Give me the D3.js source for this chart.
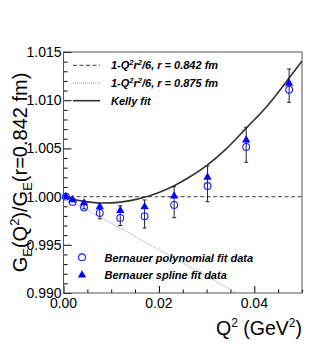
<!DOCTYPE html>
<html>
<head>
<meta charset="utf-8">
<script src="https://cdn.jsdelivr.net/npm/d3@7"></script>
<style>
  body { margin: 0; background: #fff; }
  svg text { font-family: "Liberation Sans", Arial, Helvetica, sans-serif; fill: #000; }
</style>
</head>
<body>
<div id="chart"></div>
<script>
// measured Q^2 points (GeV^2)
let q2 = [0.0005, 0.0019, 0.0043, 0.0076, 0.0119, 0.0170, 0.0232, 0.0302, 0.0383, 0.0473]
let polyVals = [1.0000, 0.99945, 0.99886, 0.99831, 0.99779, 0.99797, 0.99914, 1.00110, 1.00515, 1.01109]
let splineVals = [1.0000, 0.99966, 0.99934, 0.99893, 0.99855, 0.99893, 1.00006, 1.00201, 1.00587, 1.01175]
let errLow = [0.99996, 0.99948, 0.99872, 0.99769, 0.99700, 0.99674, 0.99781, 0.99947, 1.00356, 1.00978]
let errHigh = [1.00004, 0.99962, 0.99944, 0.99900, 0.99905, 0.99965, 1.00103, 1.00317, 1.00719, 1.01324]

// Kelly fit curve
let kellyQ2 = [0, 0.002, 0.004, 0.006, 0.008, 0.010, 0.012, 0.014, 0.0175, 0.020, 0.023, 0.026, 0.030, 0.034, 0.0383, 0.042, 0.0473, 0.050]
let kellyVals = [1.0000, 0.99973, 0.99953, 0.99940, 0.99934, 0.99935, 0.99943, 0.99958, 1.0000, 1.00043, 1.00108, 1.00190, 1.00322, 1.00490, 1.00710, 1.00900, 1.01230, 1.01407]

// 1-Q^2 r^2/6 lines
let r842Q2 = [0, 0.05]
let r842Vals = [1.0, 1.0]
let r875Q2 = [0, 0.0363]
let r875Vals = [1.0, 0.990]

let xTicks = [0, 0.02, 0.04]
let yTicks = [0.990, 0.995, 1.000, 1.005, 1.010, 1.015]

let width = 336, height = 346
let fLeft = 63.5, fRight = 302, fTop = 52, fBottom = 293

let svg = d3.select('#chart')
  .append('svg')
  .attr('width', width)
  .attr('height', height)

let x = d3.scaleLinear().domain([0, 0.05]).range([fLeft, fRight])
let y = d3.scaleLinear().domain([0.990, 1.015]).range([fBottom, fTop])

// ROOT style ticks inside the frame
let xAxis = svg.append('g').attr('transform', `translate(0, ${fBottom})`)
xAxis.call(d3.axisBottom(x).tickValues(d3.range(0, 0.0501, 0.005)).tickFormat(''))
xAxis.call(g => g.selectAll('.tick line').attr('y2', d => xTicks.some(t => Math.abs(t - d) < 1e-6) ? -7 : -3.5))
xAxis.select('.domain').remove()

let yAxis = svg.append('g').attr('transform', `translate(${fLeft}, 0)`)
yAxis.call(d3.axisLeft(y).tickValues(d3.range(0.990, 1.0151, 0.001)).tickFormat(''))
yAxis.call(g => g.selectAll('.tick line').attr('x2', d => yTicks.some(t => Math.abs(t - d) < 1e-6) ? 8 : 4))
yAxis.select('.domain').remove()
svg.selectAll('.tick line').attr('stroke', '#000').attr('stroke-width', 1)

svg.append('g').selectAll('text')
  .data(xTicks)
  .enter()
  .append('text')
  .attr('x', d => x(d))
  .attr('y', fBottom + 14.5)
  .attr('text-anchor', 'middle')
  .attr('font-size', 14)
  .text(d => d3.format('.2f')(d))

svg.append('g').selectAll('text')
  .data(yTicks)
  .enter()
  .append('text')
  .attr('x', fLeft - 2)
  .attr('y', d => y(d) + 5)
  .attr('text-anchor', 'end')
  .attr('font-size', 14)
  .text(d => d3.format('.3f')(d))

// axis titles
let xt = svg.append('text')
  .attr('x', fRight)
  .attr('y', 335)
  .attr('text-anchor', 'end')
  .attr('font-size', 19.5)
xt.append('tspan').text('Q')
xt.append('tspan').attr('dy', -8).attr('font-size', 12).text('2')
xt.append('tspan').attr('dy', 8).text(' (GeV')
xt.append('tspan').attr('dy', -8).attr('font-size', 12).text('2')
xt.append('tspan').attr('dy', 8).text(')')

let yt = svg.append('text')
  .attr('transform', `translate(27, ${(fTop + fBottom) / 2}) rotate(-90)`)
  .attr('text-anchor', 'middle')
  .attr('font-size', 20)
yt.append('tspan').text('G')
yt.append('tspan').attr('dy', 5).attr('font-size', 13).text('E')
yt.append('tspan').attr('dy', -5).text('(Q')
yt.append('tspan').attr('dy', -8).attr('font-size', 13).text('2')
yt.append('tspan').attr('dy', 8).text(')/G')
yt.append('tspan').attr('dy', 5).attr('font-size', 13).text('E')
yt.append('tspan').attr('dy', -5).text('(r=0.842 fm)')

// curves
let line = d3.line().x(d => x(d[0])).y(d => y(d[1]))

let plot = svg.append('g')
plot.append('path')
  .datum(d3.zip(r842Q2, r842Vals))
  .attr('d', line)
  .attr('fill', 'none')
  .attr('stroke', '#666')
  .attr('stroke-width', 1.2)
  .attr('stroke-dasharray', '4 2.5')

plot.append('path')
  .datum(d3.zip(r875Q2, r875Vals))
  .attr('d', line)
  .attr('fill', 'none')
  .attr('stroke', '#999')
  .attr('stroke-width', 1)
  .attr('stroke-dasharray', '1 1')

plot.append('path')
  .datum(d3.zip(kellyQ2, kellyVals))
  .attr('d', line.curve(d3.curveMonotoneX))
  .attr('fill', 'none')
  .attr('stroke', '#333')
  .attr('stroke-width', 1.6)

// error bars
let errs = plot.append('g')
  .selectAll('g')
  .data(d3.range(q2.length))
  .enter()
  .append('g')
  .attr('stroke', '#222')
  .attr('stroke-width', 1)
errs.append('line')
  .attr('x1', i => x(q2[i])).attr('x2', i => x(q2[i]))
  .attr('y1', i => y(errLow[i])).attr('y2', i => y(errHigh[i]))
errs.append('line')
  .attr('x1', i => x(q2[i]) - 2).attr('x2', i => x(q2[i]) + 2)
  .attr('y1', i => y(errLow[i])).attr('y2', i => y(errLow[i]))
errs.append('line')
  .attr('x1', i => x(q2[i]) - 2).attr('x2', i => x(q2[i]) + 2)
  .attr('y1', i => y(errHigh[i])).attr('y2', i => y(errHigh[i]))

let tri = d3.symbol().type(d3.symbolTriangle).size(30)

plot.append('g')
  .selectAll('circle')
  .data(d3.zip(q2, polyVals))
  .enter()
  .append('circle')
  .attr('cx', d => x(d[0]))
  .attr('cy', d => y(d[1]))
  .attr('r', 3.4)
  .attr('fill', 'none')
  .attr('stroke', '#1a1aff')
  .attr('stroke-width', 1.1)

plot.append('g')
  .selectAll('path')
  .data(d3.zip(q2, splineVals))
  .enter()
  .append('path')
  .attr('d', tri)
  .attr('transform', d => `translate(${x(d[0])}, ${y(d[1])})`)
  .attr('fill', '#0000ff')

// frame
svg.append('rect')
  .attr('x', fLeft).attr('y', fTop)
  .attr('width', fRight - fLeft).attr('height', fBottom - fTop)
  .attr('fill', 'none')
  .attr('stroke', '#555')
  .attr('stroke-width', 1)

// legends
let topLegend = [
  { dash: '4 2.5', color: '#666', w: 1.2, label: 'r = 0.842 fm', formula: true },
  { dash: '1 1', color: '#999', w: 1, label: 'r = 0.875 fm', formula: true },
  { dash: null, color: '#333', w: 1.6, label: 'Kelly fit', formula: false }
]
let lg = svg.append('g')
  .selectAll('g')
  .data(topLegend)
  .enter()
  .append('g')
  .attr('transform', (d, i) => `translate(0, ${65.3 + i * 17.7})`)
lg.append('line')
  .attr('x1', 73).attr('x2', 100)
  .attr('stroke', d => d.color)
  .attr('stroke-width', d => d.w)
  .attr('stroke-dasharray', d => d.dash)
lg.each(function (d) {
  let t = d3.select(this).append('text')
    .attr('x', 111).attr('y', 4)
    .attr('font-size', 11)
    .attr('font-weight', 'bold')
    .attr('font-style', 'italic')
  if (d.formula) {
    t.append('tspan').text('1-Q')
    t.append('tspan').attr('dy', -4).attr('font-size', 7.5).text('2')
    t.append('tspan').attr('dy', 4).text('r')
    t.append('tspan').attr('dy', -4).attr('font-size', 7.5).text('2')
    t.append('tspan').attr('dy', 4).text('/6, ' + d.label)
  } else {
    t.text(d.label)
  }
})

let bl = svg.append('g')
bl.append('circle')
  .attr('cx', 82).attr('cy', 257.3).attr('r', 3.4)
  .attr('fill', 'none').attr('stroke', '#1a1aff').attr('stroke-width', 1.1)
bl.append('path')
  .attr('d', tri)
  .attr('transform', 'translate(82, 275)')
  .attr('fill', '#0000ff')
bl.append('text')
  .attr('x', 104.5).attr('y', 261.5)
  .attr('font-size', 11).attr('font-weight', 'bold').attr('font-style', 'italic')
  .text('Bernauer polynomial fit data')
bl.append('text')
  .attr('x', 104.5).attr('y', 279)
  .attr('font-size', 11).attr('font-weight', 'bold').attr('font-style', 'italic')
  .text('Bernauer spline fit data')
</script>
</body>
</html>
